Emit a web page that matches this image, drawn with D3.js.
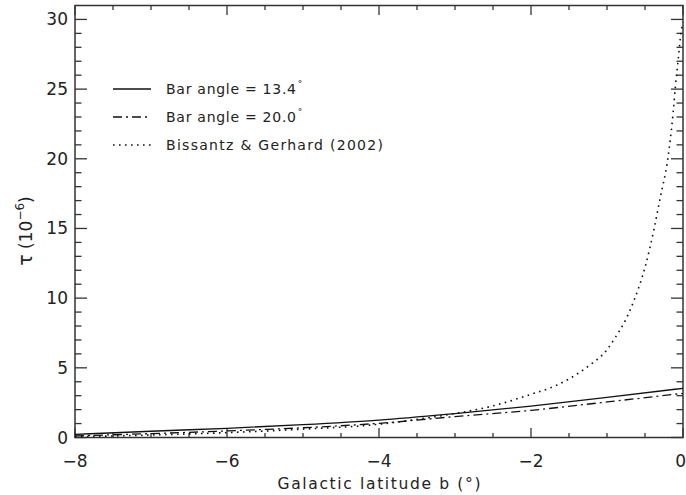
<!DOCTYPE html>
<html>
<head>
<meta charset="utf-8">
<script src="https://cdn.jsdelivr.net/npm/d3@7"></script>
<style>
  body { margin: 0; background: #fff; }
  svg text { font-family: "DejaVu Sans", sans-serif; fill: #222; }
</style>
</head>
<body>
<svg id="chart" width="686" height="495"></svg>
<script>
// galactic latitude samples and optical depth (10^-6)
var latModel = [-8, -7, -6, -5, -4, -3, -2, -1, 0];
var tauBar134 = [0.22, 0.45, 0.66, 0.92, 1.25, 1.72, 2.25, 2.88, 3.53];
var tauBar200 = [0.12, 0.28, 0.47, 0.70, 1.02, 1.50, 1.95, 2.55, 3.17];

var latBG = [-8, -7, -6, -5, -4, -3.5, -3, -2.5, -2, -1.75, -1.5, -1.25, -1, -0.9, -0.75, -0.64, -0.5, -0.38, -0.3, -0.2, -0.13, -0.1, -0.06, -0.03, 0];
var tauBG = [0.05, 0.18, 0.35, 0.6, 0.95, 1.3, 1.72, 2.27, 3.1, 3.55, 4.2, 5.1, 6.3, 7.1, 8.5, 9.9, 12.2, 15, 17.2, 20, 23.3, 25.2, 27.3, 28.9, 29.8];

var xMajor = [-8, -6, -4, -2, 0];
var yMajor = [0, 5, 10, 15, 20, 25, 30];

var legendLabels = ["Bar angle = 13.4", "Bar angle = 20.0", "Bissantz & Gerhard (2002)"];

var svg = d3.select("#chart");
// note: "top" is a reserved window property, so use plot* names
var plotL = 75, plotR = 683, plotT = 5.5, plotB = 437.5;

var x = d3.scaleLinear().domain([-8, 0]).range([plotL, plotR]);
var y = d3.scaleLinear().domain([0, 31]).range([plotB, plotT]);

var axisColor = "#333";

// frame
svg.append("rect").attr("x", plotL).attr("y", plotT)
  .attr("width", plotR - plotL).attr("height", plotB - plotT)
  .attr("fill", "none").attr("stroke", axisColor).attr("stroke-width", 1.5);

// x ticks, bottom and top, pointing inward
var xMinor = d3.range(-8, 0.01, 0.5);
xMinor.forEach(function(v) {
  var major = xMajor.indexOf(v) >= 0;
  var len = major ? 9.5 : 4.5;
  svg.append("line").attr("x1", x(v)).attr("x2", x(v))
    .attr("y1", plotB).attr("y2", plotB - len)
    .attr("stroke", axisColor).attr("stroke-width", 1.3);
  svg.append("line").attr("x1", x(v)).attr("x2", x(v))
    .attr("y1", plotT).attr("y2", plotT + len)
    .attr("stroke", axisColor).attr("stroke-width", 1.3);
});

var yMinor = d3.range(0, 31, 1);
yMinor.forEach(function(v) {
  var major = yMajor.indexOf(v) >= 0;
  var len = major ? 12 : 6.5;
  svg.append("line").attr("x1", plotL).attr("x2", plotL + len)
    .attr("y1", y(v)).attr("y2", y(v))
    .attr("stroke", axisColor).attr("stroke-width", 1.3);
  svg.append("line").attr("x1", plotR).attr("x2", plotR - len)
    .attr("y1", y(v)).attr("y2", y(v))
    .attr("stroke", axisColor).attr("stroke-width", 1.3);
});

// tick labels
svg.selectAll(".xlab").data(xMajor).enter().append("text")
  .attr("class", "xlab")
  .attr("x", function(d) { return x(d); })
  .attr("y", 467)
  .attr("text-anchor", function(d) { return d === 0 ? "end" : "middle"; })
  .attr("dx", function(d) { return d === 0 ? 3 : 0; })
  .style("font-size", "17px")
  .text(function(d) { return d < 0 ? "\u2212" + Math.abs(d) : d; });

svg.selectAll(".ylab").data(yMajor).enter().append("text")
  .attr("class", "ylab")
  .attr("x", 68)
  .attr("y", function(d) { return y(d) + 6; })
  .attr("text-anchor", "end")
  .style("font-size", "17px")
  .text(function(d) { return d; });

// axis titles
svg.append("text").attr("x", 379).attr("y", 489)
  .attr("text-anchor", "middle").style("font-size", "15.5px")
  .attr("textLength", 203)
  .text("Galactic latitude b (\u00b0)");

var ytitle = svg.append("text")
  .attr("transform", "translate(32,231) rotate(-90)")
  .attr("text-anchor", "middle").style("font-size", "17px");
ytitle.append("tspan").style("font-size", "19px").text("\u03c4");
ytitle.append("tspan").text("  (10");
ytitle.append("tspan").attr("dy", -8).style("font-size", "12px").text("\u22126");
ytitle.append("tspan").attr("dy", 8).text(")");

// curves
var line = d3.line()
  .x(function(d) { return x(d[0]); })
  .y(function(d) { return y(d[1]); })
  .curve(d3.curveMonotoneX);

var styles = [
  { dash: null, width: 1.3 },
  { dash: "9,4,2,4", width: 1.3 },
  { dash: "1.6,4.4", width: 1.6 }
];

var series = [
  d3.zip(latModel, tauBar134),
  d3.zip(latModel, tauBar200),
  d3.zip(latBG, tauBG)
];

svg.append("g").selectAll("path").data(series).enter().append("path")
  .attr("d", line)
  .attr("fill", "none")
  .attr("stroke", "#111")
  .attr("stroke-width", function(d, i) { return styles[i].width; })
  .attr("stroke-dasharray", function(d, i) { return styles[i].dash; });

// legend
var legendY = [89, 117, 145];
var leg = svg.append("g").selectAll("g").data(legendLabels).enter().append("g");
leg.append("line")
  .attr("x1", 113).attr("x2", 151)
  .attr("y1", function(d, i) { return legendY[i]; })
  .attr("y2", function(d, i) { return legendY[i]; })
  .attr("stroke", "#111")
  .attr("stroke-width", function(d, i) { return styles[i].width; })
  .attr("stroke-dasharray", function(d, i) { return styles[i].dash; });
var legText = leg.append("text")
  .attr("x", 166)
  .attr("y", function(d, i) { return legendY[i] + 5; })
  .style("font-size", "14px");
legText.append("tspan")
  .attr("textLength", function(d, i) { return i < 2 ? 130 : 217; })
  .text(function(d) { return d; });
legText.filter(function(d, i) { return i < 2; })
  .append("tspan").attr("dy", -7).attr("dx", 1).style("font-size", "9px").text("\u00b0");
</script>
</body>
</html>
